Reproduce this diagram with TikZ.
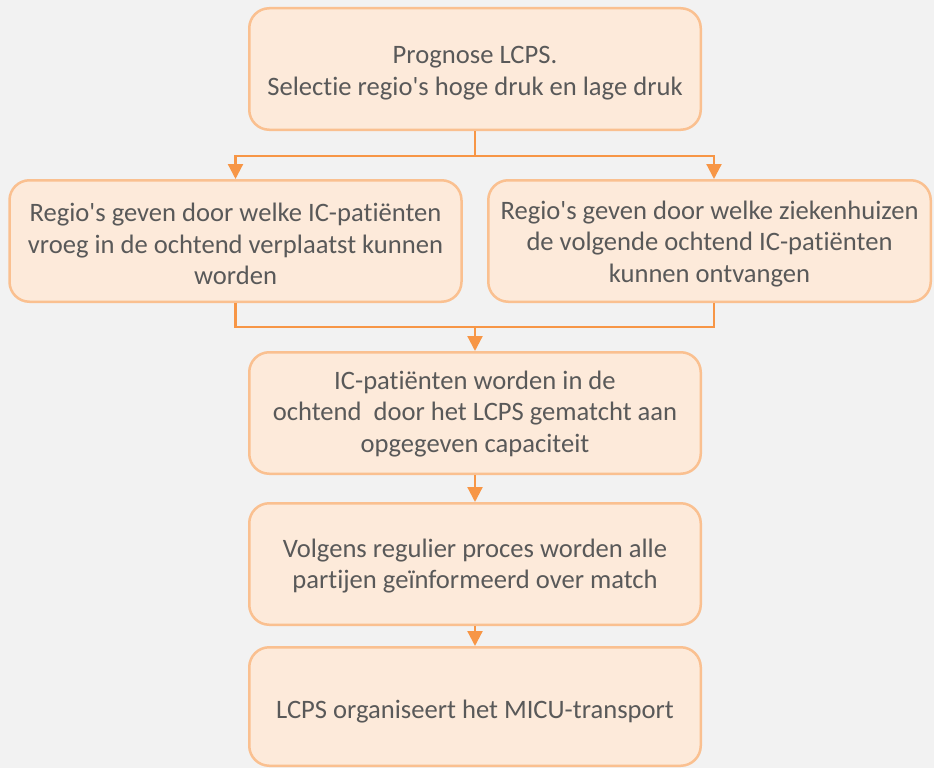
\documentclass[tikz,border=0pt]{standalone}
\usepackage{fontspec}
\setmainfont{Carlito}[Ligatures={NoCommon}]
\usetikzlibrary{arrows.meta}
\definecolor{bg}{HTML}{F2F2F2}
\definecolor{boxfill}{HTML}{FDEADA}
\definecolor{boxline}{HTML}{FAC090}
\definecolor{arr}{HTML}{F79646}
\definecolor{txt}{HTML}{595959}
\newcommand{\apo}{\textquotesingle}
\begin{document}
\begin{tikzpicture}[x=1pt,y=-1pt,
  box/.style={draw=boxline, fill=boxfill, line width=2.5pt, rounded corners=20pt,
    inner sep=0pt, minimum height=121.5pt},
  lbl/.style={align=center, text=txt, font=\fontsize{26.6}{31.5}\selectfont, inner sep=0pt},
  conn/.style={draw=arr, line width=2.2pt},
  tip/.style={-{Triangle[width=15pt,length=15pt]}}]
\fill[bg] (0,0) rectangle (934,768);
\useasboundingbox (0,0) rectangle (934,768);

\node[box, minimum width=451.5pt] (b1) at (475,69) {};
\node[box, minimum width=452pt] (b2) at (235.5,241) {};
\node[box, minimum width=442.5pt] (b3) at (709.5,241) {};
\node[box, minimum width=451.5pt] (b4) at (475,413) {};
\node[box, minimum width=451.5pt] (b5) at (475,564) {};
\node[box, minimum width=451.5pt, minimum height=118.5pt] (b6) at (475,706.5) {};

\node[lbl] (t1) at ([yshift=-4pt]b1.center)
  {Prognose LCPS.\\Selectie regio\apo s hoge druk en lage druk};
\node[lbl] (t2) at ([yshift=-3pt]b2.center)
  {Regio\apo s geven door welke IC-patiënten\\vroeg in de ochtend verplaatst kunnen\\worden};
\node[lbl] (t3) at ([yshift=-3pt]b3.center)
  {Regio\apo s geven door welke ziekenhuizen\\de volgende ochtend IC-patiënten\\kunnen ontvangen};
\node[lbl] (t4) at ([yshift=-1pt]b4.center)
  {IC-patiënten worden in de\\ochtend~ door het LCPS gematcht aan\\opgegeven capaciteit};
\node[lbl] (t5) at ([yshift=-2pt]b5.center)
  {Volgens regulier proces worden alle\\partijen geïnformeerd over match};
\node[lbl] (t6) at ([yshift=-5pt]b6.center)
  {LCPS organiseert het MICU-transport};

\coordinate (j1) at (475,156);
\coordinate (m) at (475,327);
\draw[conn] (b1.south) -- (j1);
\draw[conn,tip] (j1) -| (b2.north);
\draw[conn,tip] (j1) -| ([xshift=4.5pt]b3.north);
\draw[conn] (b2.south) |- (m) -| ([xshift=4.5pt]b3.south);
\draw[conn,tip] (m) -- (b4.north);
\draw[conn,tip] (b4.south) -- (b5.north);
\draw[conn,tip] (b5.south) -- (b6.north);
\end{tikzpicture}
\end{document}
